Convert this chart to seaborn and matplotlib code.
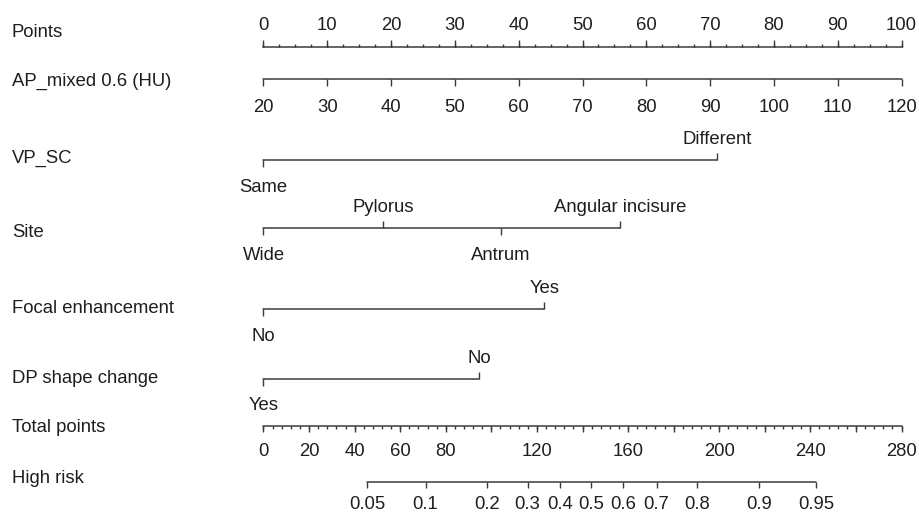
import numpy as np
import pandas as pd
import matplotlib
matplotlib.use("Agg")
import matplotlib.pyplot as plt
import seaborn as sns

# ---------------- data ----------------
row_names = ["Points", "AP_mixed 0.6 (HU)", "VP_SC", "Site",
             "Focal enhancement", "DP shape change", "Total points", "High risk"]

points_ticks = [0, 10, 20, 30, 40, 50, 60, 70, 80, 90, 100]

ap_values = [20, 30, 40, 50, 60, 70, 80, 90, 100, 110, 120]
ap_points = [0, 10, 20, 30, 40, 50, 60, 70, 80, 90, 100]

vp_levels = ["Same", "Different"]
vp_points = [0, 71.1]

site_levels = ["Wide", "Pylorus", "Antrum", "Angular incisure"]
site_points = [0, 18.7, 37.2, 55.9]

focal_levels = ["No", "Yes"]
focal_points = [0, 44.0]

dp_levels = ["Yes", "No"]
dp_points = [0, 33.8]

total_labels = [0, 20, 40, 60, 80, 120, 160, 200, 240, 280]
total_max = 280

risk_probs = ["0.05", "0.1", "0.2", "0.3", "0.4", "0.5", "0.6", "0.7", "0.8", "0.9", "0.95"]
risk_total = [45.6, 71.1, 98.0, 115.9, 130.3, 143.9, 157.7, 172.5, 190.2, 217.4, 242.4]

# ---------------- layout ----------------
W, H = 920, 513
PX0, PX1 = 263.5, 901.5
PX_PER_PT = (PX1 - PX0) / 100.0
LINE_C = "#3a3a3a"
TEXT_C = "#1e1e1e"
FS = 13.3

sns.set_theme(style="white")
plt.rcParams["font.family"] = ["Liberation Sans", "DejaVu Sans"]

fig = plt.figure(figsize=(W / 100, H / 100), dpi=100)
ax = fig.add_axes([0, 0, 1, 1])

def tp2pt(t):
    return np.asarray(t, dtype=float) * 100.0 / total_max

# main horizontal lines via seaborn
cat_rows = [(vp_levels, vp_points, 160.0),
            (site_levels, site_points, 228.3),
            (focal_levels, focal_points, 309.3),
            (dp_levels, dp_points, 379.0)]
segs = []
segs.append(pd.DataFrame({"x": [points_ticks[0], points_ticks[-1]], "y": [46.7] * 2, "row": "points"}))
segs.append(pd.DataFrame({"x": [ap_points[0], ap_points[-1]], "y": [79.3] * 2, "row": "ap"}))
for i, (lv, pts, y) in enumerate(cat_rows):
    segs.append(pd.DataFrame({"x": [min(pts), max(pts)], "y": [y] * 2, "row": f"cat{i}"}))
segs.append(pd.DataFrame({"x": tp2pt([0, total_max]), "y": [426.0] * 2, "row": "total"}))
segs.append(pd.DataFrame({"x": tp2pt([risk_total[0], risk_total[-1]]), "y": [481.7] * 2, "row": "risk"}))
seg_df = pd.concat(segs, ignore_index=True)
sns.lineplot(data=seg_df, x="x", y="y", units="row", estimator=None, sort=False,
             color=LINE_C, linewidth=1.1, ax=ax)
ax.set_xlim(-PX0 / PX_PER_PT, (W - PX0) / PX_PER_PT)
ax.set_ylim(H, 0)
ax.axis("off")

label_x = (12 - PX0) / PX_PER_PT
label_base = [37.3, 86.0, 163.3, 236.7, 313.3, 382.7, 431.7, 482.7]
for name, yb in zip(row_names, label_base):
    ax.text(label_x, yb, name, fontsize=FS, color=TEXT_C, va="baseline", ha="left")

tk = dict(colors=LINE_C, linewidth=1.0)

# Points axis (ticks up)
y0 = 46.7
ax.vlines(points_ticks, y0 - 6.5, y0, **tk)
minor = np.arange(0, 100.01, 2.5)
ax.vlines(minor, y0 - 3.0, y0, **tk)
for v in points_ticks:
    ax.text(v, 30.0, str(v), fontsize=FS, color=TEXT_C, ha="center", va="baseline")

# AP axis (ticks down)
y0 = 79.3
ax.vlines(ap_points, y0, y0 + 7.0, **tk)
for v, p in zip(ap_values, ap_points):
    ax.text(p, 111.5, str(v), fontsize=FS, color=TEXT_C, ha="center", va="baseline")

# categorical rows
for lv, pts, y in cat_rows:
    for i, (name, p) in enumerate(zip(lv, pts)):
        if i % 2 == 0:
            ax.vlines(p, y, y + 6.5, **tk)
            ax.text(p, y + 31.5, name, fontsize=FS, color=TEXT_C, ha="center", va="baseline")
        else:
            ax.vlines(p, y - 7.0, y, **tk)
            ax.text(p, y - 16, name, fontsize=FS, color=TEXT_C, ha="center", va="baseline")

# Total points (ticks down)
y0 = 426.0
ax.vlines(tp2pt(np.arange(0, total_max + 0.1, 20)), y0, y0 + 6.0, **tk)
ax.vlines(tp2pt(np.arange(0, total_max + 0.1, 4)), y0, y0 + 3.2, **tk)
for v in total_labels:
    ax.text(tp2pt(v), 456.5, str(v), fontsize=FS, color=TEXT_C, ha="center", va="baseline")

# High risk (ticks down)
y0 = 481.7
ax.vlines(tp2pt(risk_total), y0, y0 + 6.0, **tk)
for lab, t in zip(risk_probs, risk_total):
    ax.text(tp2pt(t), 509.0, lab, fontsize=FS, color=TEXT_C, ha="center", va="baseline")

fig.savefig("out.png", dpi=100, facecolor="white")
